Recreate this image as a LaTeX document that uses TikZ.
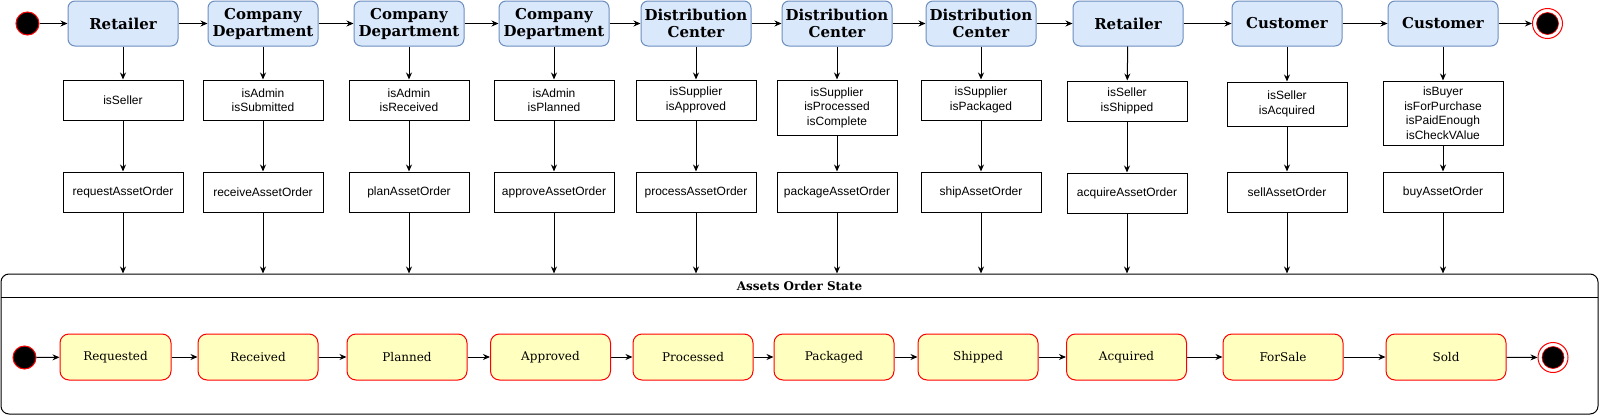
\documentclass[tikz,border=0pt]{standalone}
\usepackage{fontspec}
\setmainfont{DejaVu Serif}
\newfontfamily\condfont{Liberation Sans}
\usetikzlibrary{arrows.meta}
\definecolor{RoleFill}{HTML}{DAE8FC}
\definecolor{RoleLine}{HTML}{6C8EBF}
\definecolor{StateFill}{HTML}{FFFFC0}
\definecolor{StateLine}{HTML}{FF0000}

\begin{document}
\begin{tikzpicture}[x=1pt,y=-1pt,
    role/.style={draw=RoleLine, fill=RoleFill, rounded corners=7pt, minimum width=110pt, minimum height=45pt, inner sep=0pt, align=center, line width=1pt, font=\bfseries\fontsize{15}{17}\selectfont},
    cond/.style={draw, minimum width=120pt, minimum height=40pt, inner sep=0pt, align=center, line width=1pt, font=\condfont\fontsize{12}{14.5}\selectfont},
    state/.style={draw=StateLine, fill=StateFill, rounded corners=9pt, minimum width=120pt, minimum height=46pt, inner sep=0pt, line width=1pt, font=\fontsize{12}{14}\selectfont},
    startdot/.style={circle, draw=StateLine, fill=black, minimum size=23pt, inner sep=0pt, line width=1pt},
    enddot/.style={circle, draw=StateLine, fill=white, minimum size=30pt, inner sep=0pt, line width=1pt},
    flow/.style={-{Stealth[length=7pt,width=6pt]}, line width=1pt}]

        \useasboundingbox (0,0) rectangle (1599,415);

            % who does it
            \node[startdot] (s1) at (27.5,23.5) {};
            \node[role] (r1) at (123,23.5) {Retailer};
            \node[role] (r2) at (263,23.5) {Company\\Department};
            \node[role] (r3) at (409,23.5) {Company\\Department};
            \node[role] (r4) at (554,23.5) {Company\\Department};
            \node[role] (r5) at (696,23.5) {Distribution\\Center};
            \node[role] (r6) at (837,23.5) {Distribution\\Center};
            \node[role] (r7) at (981,23.5) {Distribution\\Center};
            \node[role] (r8) at (1128,23.5) {Retailer};
            \node[role] (r9) at (1287,23.5) {Customer};
            \node[role] (r10) at (1443,23.5) {Customer};
            \node[enddot] (e1) at (1547.5,23.5) {};
            \filldraw[fill=black, draw=StateLine, line width=0.6pt] (e1.center) circle (11pt);

            % checks
            \node[cond] (c1) at (123,100) {isSeller};
            \node[cond] (c2) at (263,100) {isAdmin\\isSubmitted};
            \node[cond] (c3) at (409,100) {isAdmin\\isReceived};
            \node[cond] (c4) at (554,100) {isAdmin\\isPlanned};
            \node[cond] (c5) at (696,100) {isSupplier\\isApproved};
            \node[cond, minimum height=55pt] (c6) at (837,107.5) {isSupplier\\isProcessed\\isComplete};
            \node[cond] (c7) at (981,100) {isSupplier\\isPackaged};
            \node[cond] (c8) at (1127,101) {isSeller\\isShipped};
            \node[cond, minimum height=44pt] (c9) at (1287,104) {isSeller\\isAcquired};
            \node[cond, minimum height=64pt] (c10) at (1443,113) {isBuyer\\isForPurchase\\isPaidEnough\\isCheckVAlue};

            % functions
            \node[cond] (f1) at (123,192) {requestAssetOrder};
            \node[cond] (f2) at (263,192) {receiveAssetOrder};
            \node[cond] (f3) at (409,192) {planAssetOrder};
            \node[cond] (f4) at (554,192) {approveAssetOrder};
            \node[cond] (f5) at (696,192) {processAssetOrder};
            \node[cond] (f6) at (837,192) {packageAssetOrder};
            \node[cond] (f7) at (981,192) {shipAssetOrder};
            \node[cond] (f8) at (1127,193) {acquireAssetOrder};
            \node[cond] (f9) at (1287,192) {sellAssetOrder};
            \node[cond] (f10) at (1443,192) {buyAssetOrder};

            % state box
            \node[draw, rounded corners=8pt, minimum width=1597pt, minimum height=140pt, line width=1pt] (box) at (799.5,344) {};
            \coordinate (hl) at (1,297);
            \coordinate (hr) at (1598,297);
            \draw[line width=1pt] (hl) -- (hr);
            \node[font=\bfseries\fontsize{12}{14}\selectfont] (title) at (799.5,286) {Assets Order State};

            \node[startdot] (s2) at (24.5,357.5) {};
            \node[state, minimum width=111pt] (st1) at (115.5,357) {Requested};
            \node[state] (st2) at (258,357) {Received};
            \node[state] (st3) at (407,357) {Planned};
            \node[state] (st4) at (550.5,357) {Approved};
            \node[state] (st5) at (693,357) {Processed};
            \node[state] (st6) at (834,357) {Packaged};
            \node[state] (st7) at (978,357) {Shipped};
            \node[state] (st8) at (1126.5,357) {Acquired};
            \node[state] (st9) at (1283,357) {ForSale};
            \node[state] (st10) at (1446,357) {Sold};
            \node[enddot] (e2) at (1553,357.5) {};
            \filldraw[fill=black, draw=StateLine, line width=0.6pt] (e2.center) circle (11pt);

            % top row
            \draw[flow] (s1) -- (r1);
            \draw[flow] (r1) -- (r2);
            \draw[flow] (r2) -- (r3);
            \draw[flow] (r3) -- (r4);
            \draw[flow] (r4) -- (r5);
            \draw[flow] (r5) -- (r6);
            \draw[flow] (r6) -- (r7);
            \draw[flow] (r7) -- (r8);
            \draw[flow] (r8) -- (r9);
            \draw[flow] (r9) -- (r10);
            \draw[flow] (r10) -- (e1);

            % columns
            \draw[flow] (r1) -- (c1);
            \draw[flow] (r2) -- (c2);
            \draw[flow] (r3) -- (c3);
            \draw[flow] (r4) -- (c4);
            \draw[flow] (r5) -- (c5);
            \draw[flow] (r6) -- (c6);
            \draw[flow] (r7) -- (c7);
            \draw[flow] (r8) -- (c8);
            \draw[flow] (r9) -- (c9);
            \draw[flow] (r10) -- (c10);

            \draw[flow] (c1) -- (f1);
            \draw[flow] (c2) -- (f2);
            \draw[flow] (c3) -- (f3);
            \draw[flow] (c4) -- (f4);
            \draw[flow] (c5) -- (f5);
            \draw[flow] (c6) -- (f6);
            \draw[flow] (c7) -- (f7);
            \draw[flow] (c8) -- (f8);
            \draw[flow] (c9) -- (f9);
            \draw[flow] (c10) -- (f10);

            \draw[flow] (f1) -- (f1 |- box.north);
            \draw[flow] (f2) -- (f2 |- box.north);
            \draw[flow] (f3) -- (f3 |- box.north);
            \draw[flow] (f4) -- (f4 |- box.north);
            \draw[flow] (f5) -- (f5 |- box.north);
            \draw[flow] (f6) -- (f6 |- box.north);
            \draw[flow] (f7) -- (f7 |- box.north);
            \draw[flow] (f8) -- (f8 |- box.north);
            \draw[flow] (f9) -- (f9 |- box.north);
            \draw[flow] (f10) -- (f10 |- box.north);

            % bottom row
            \draw[flow] (s2) -- (st1);
            \draw[flow] (st1) -- (st2);
            \draw[flow] (st2) -- (st3);
            \draw[flow] (st3) -- (st4);
            \draw[flow] (st4) -- (st5);
            \draw[flow] (st5) -- (st6);
            \draw[flow] (st6) -- (st7);
            \draw[flow] (st7) -- (st8);
            \draw[flow] (st8) -- (st9);
            \draw[flow] (st9) -- (st10);
            \draw[flow] (st10) -- (e2);
\end{tikzpicture}
\end{document}
